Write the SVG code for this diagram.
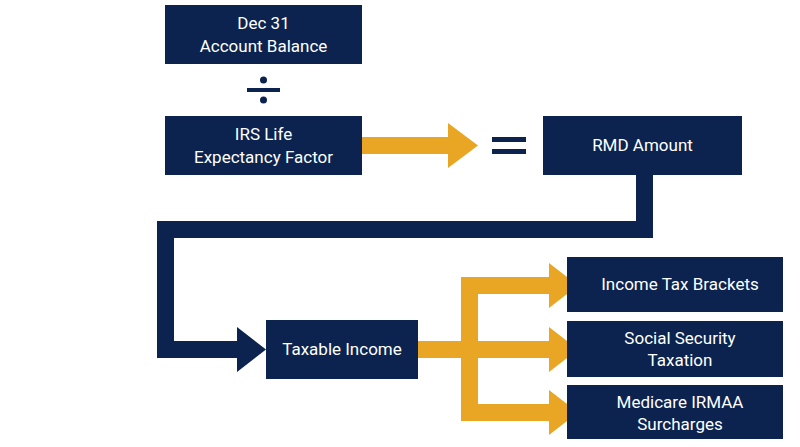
<svg xmlns="http://www.w3.org/2000/svg" width="800" height="447" viewBox="0 0 800 447">
<style>
.b{fill:#0b234e}
.t{font-family:Roboto,"Liberation Sans",sans-serif;font-size:17px;fill:#fff;text-anchor:middle}
.y{fill:#e8a624}
</style>
<rect width="800" height="447" fill="#fff"/>
<g id="connectors">
<path class="b" d="M636,175H653V238H174V341H237V327L266,349.5L237,372V358H157V221H636Z"/>
<path class="y" d="M362,137H448V123L478,145.5L448,168V154H362Z"/>
<path class="y" d="M418,341H461V277H549V263L578,285.5L549,308V294H478V341H549V327L578,349.5L549,372V358H478V404H549V390L578,412.5L549,435V421H461V358H418Z"/>
</g>
<g id="n1"><rect class="b" x="165" y="5" width="197" height="59"/><text class="t" x="263.5" y="29">Dec 31</text><text class="t" x="263.5" y="52">Account Balance</text></g>
<g id="div"><rect class="b" x="247" y="88" width="33" height="4"/><circle class="b" cx="263.5" cy="80" r="3.5"/><circle class="b" cx="263.5" cy="100" r="3.5"/></g>
<g id="n2"><rect class="b" x="165" y="116" width="197" height="59"/><text class="t" x="263.5" y="140">IRS Life</text><text class="t" x="263.5" y="163">Expectancy Factor</text></g>
<g id="eq"><rect class="b" x="492" y="137" width="34" height="5"/><rect class="b" x="492" y="149" width="34" height="5"/></g>
<g id="n3"><rect class="b" x="543" y="116" width="199" height="59"/><text class="t" x="642.5" y="151">RMD Amount</text></g>
<g id="n4"><rect class="b" x="266" y="320" width="152" height="59"/><text class="t" x="342" y="355">Taxable Income</text></g>
<g id="n5"><rect class="b" x="567" y="257" width="216" height="55"/><text class="t" x="680" y="290">Income Tax Brackets</text></g>
<g id="n6"><rect class="b" x="567" y="321" width="216" height="56"/><text class="t" x="680" y="344">Social Security</text><text class="t" x="680" y="366">Taxation</text></g>
<g id="n7"><rect class="b" x="567" y="385" width="216" height="54"/><text class="t" x="680" y="408">Medicare IRMAA</text><text class="t" x="680" y="430">Surcharges</text></g>
</svg>
